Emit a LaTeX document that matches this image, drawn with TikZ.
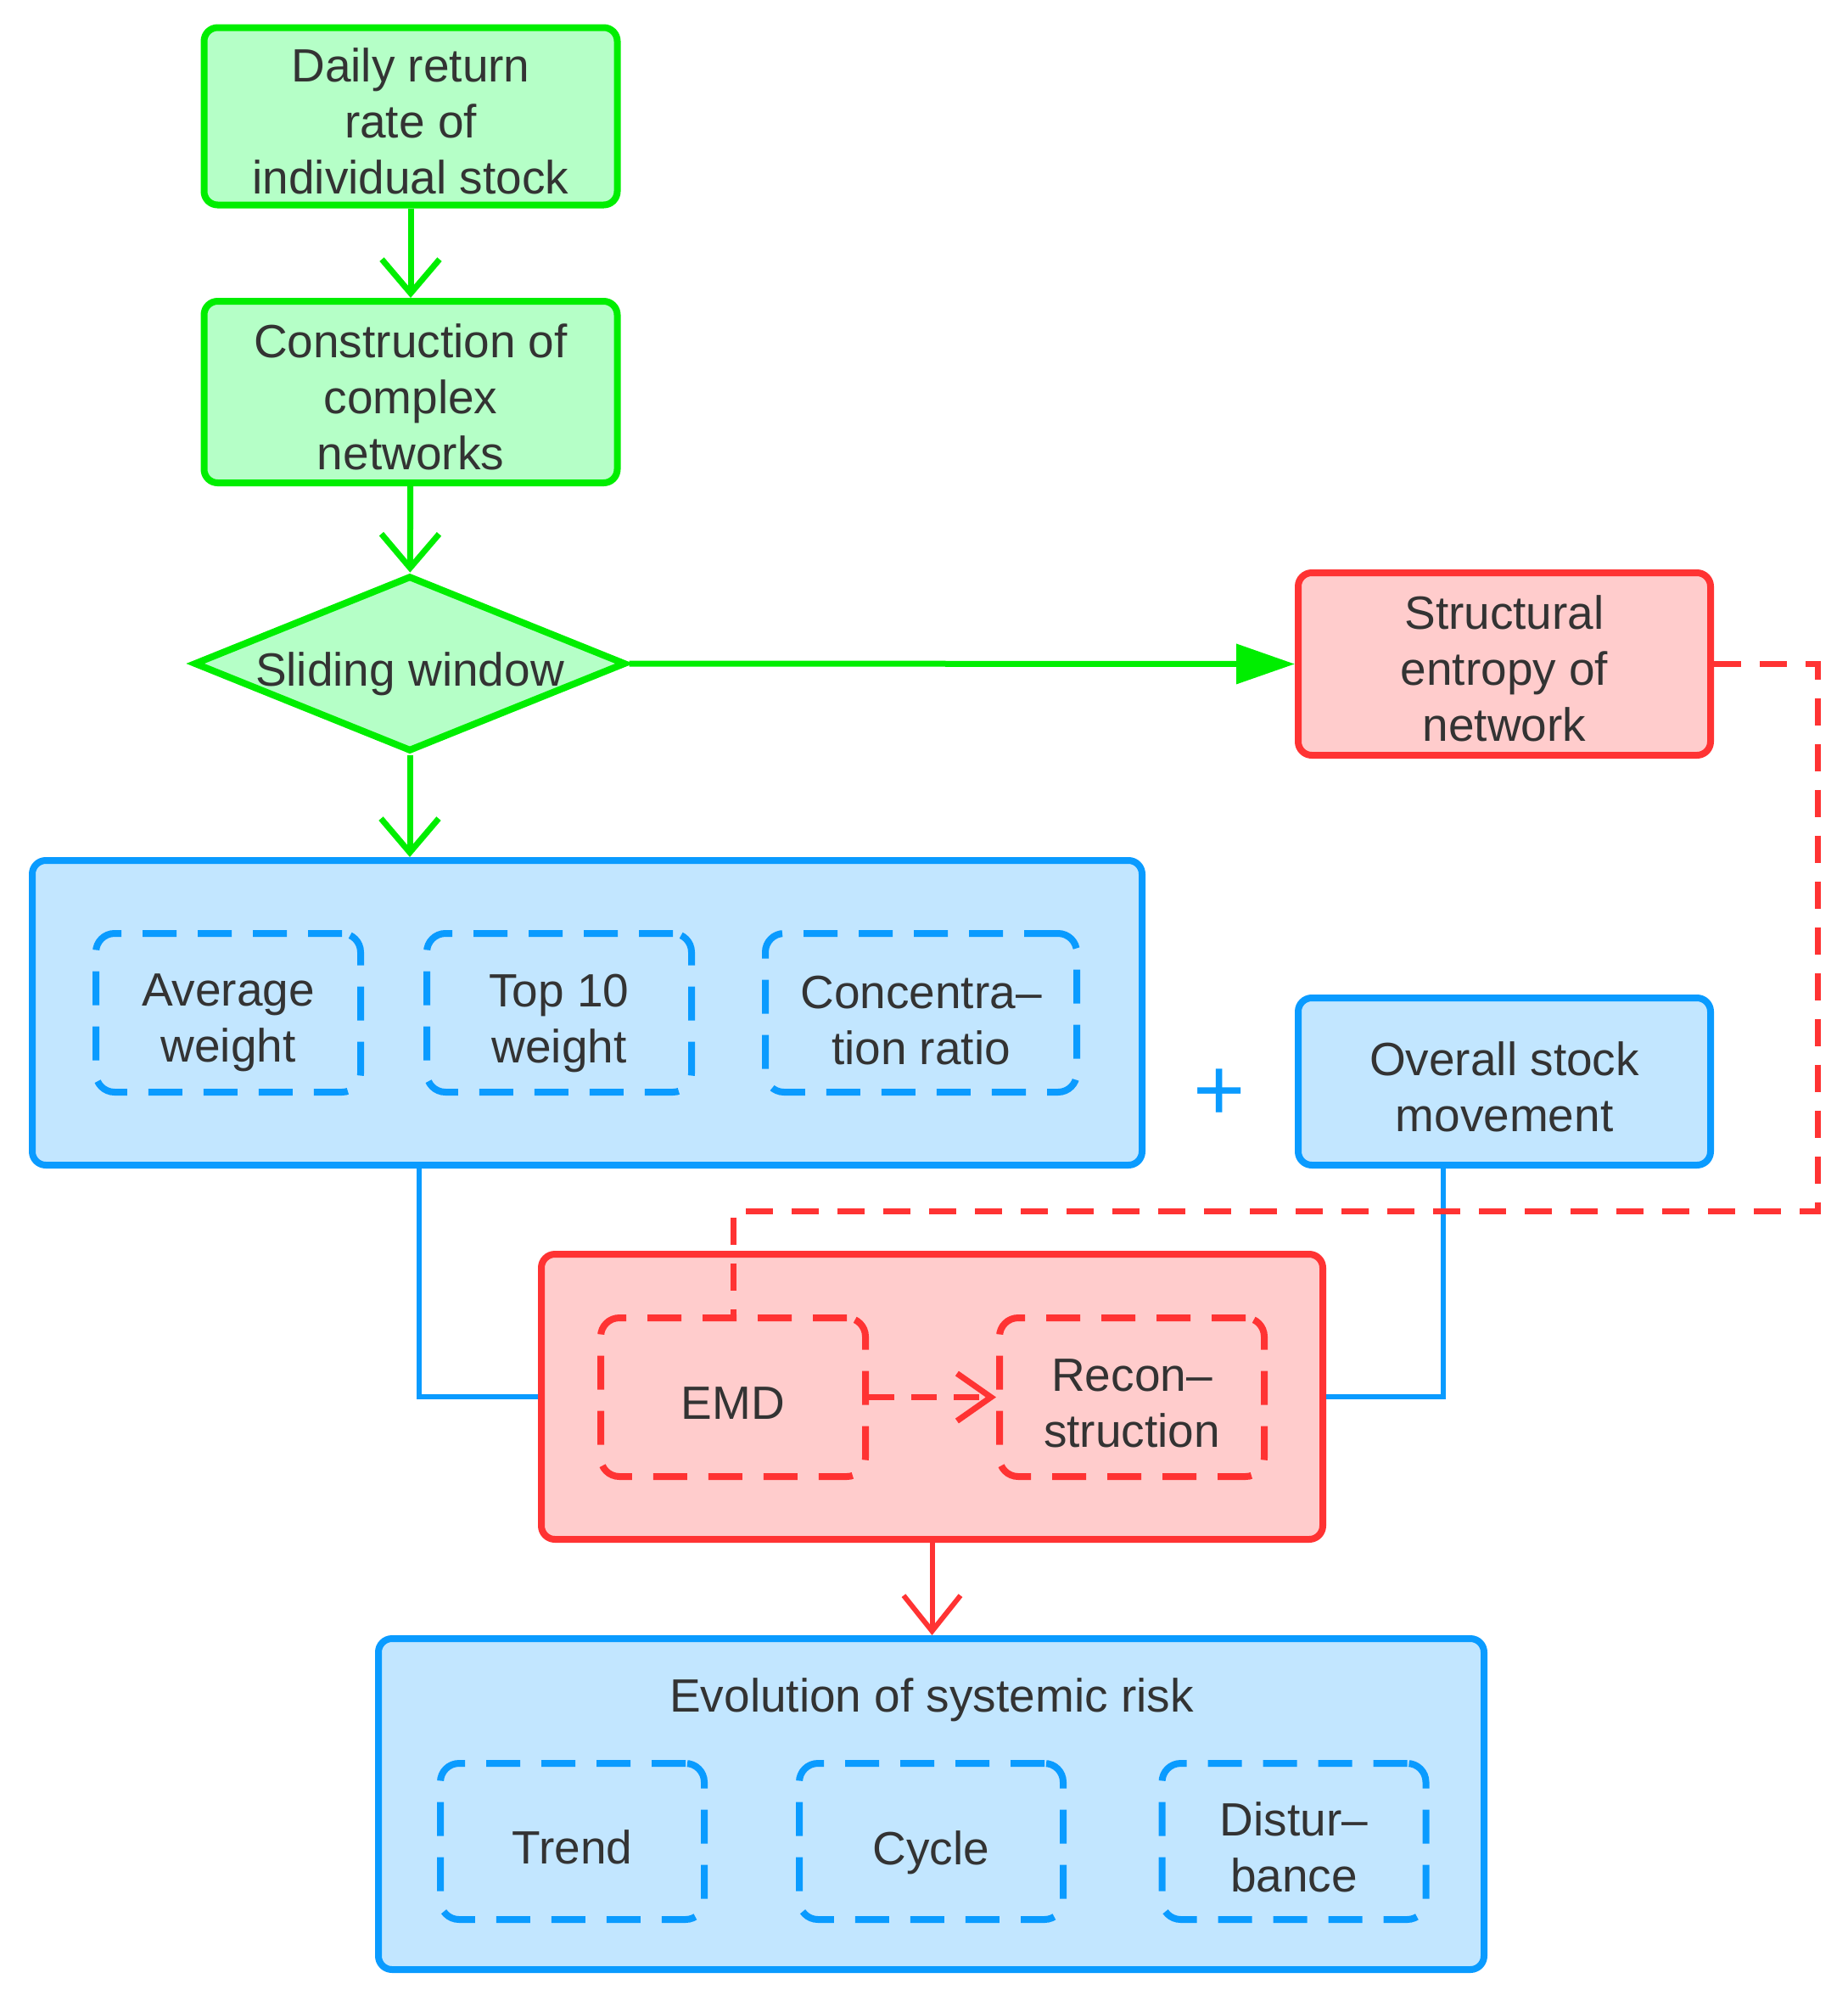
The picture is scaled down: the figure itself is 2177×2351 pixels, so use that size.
\documentclass[tikz,border=0pt]{standalone}
\usepackage{fontspec}
\setmainfont{Liberation Sans}
\usetikzlibrary{arrows.meta,shapes.geometric}
\definecolor{gline}{RGB}{0,238,0}
\definecolor{gfill}{RGB}{181,255,199}
\definecolor{rline}{RGB}{255,51,51}
\definecolor{rfill}{RGB}{255,204,204}
\definecolor{bline}{RGB}{10,155,255}
\definecolor{bfill}{RGB}{194,230,255}
\definecolor{txt}{RGB}{51,51,51}
\begin{document}
\begin{tikzpicture}[x=1pt,y=-1pt,
  every node/.style={font=\fontsize{55}{66}\selectfont, text=txt, align=center, inner sep=0pt},
  box/.style={rectangle, rounded corners=16pt, line width=8pt},
  gbox/.style={box, draw=gline, fill=gfill},
  rbox/.style={box, draw=rline, fill=rfill},
  bbox/.style={box, draw=bline, fill=bfill},
  dbox/.style={rectangle, rounded corners=22pt, line width=8pt, dash pattern=on 40pt off 25pt},
  bdash/.style={dbox, draw=bline},
  rdash/.style={dbox, draw=rline},
  garrow/.style={draw=gline, line width=7pt, -{Straight Barb[length=40pt,width=68pt]}},
  bconn/.style={draw=bline, line width=6pt},
  rconn/.style={draw=rline, line width=7pt, dash pattern=on 32pt off 22pt}
]
\useasboundingbox (0,0) rectangle (2177,2351);

% boxes
\node[gbox, minimum width=487pt, minimum height=209pt] (daily) at (484,137) {};
\node[gbox, minimum width=487pt, minimum height=214pt] (constr) at (484,462) {};
\node[diamond, draw=gline, fill=gfill, line width=8pt, minimum width=509pt, minimum height=207pt] (slide) at (483,782) {};
\node[rbox, minimum width=486pt, minimum height=215pt] (struct) at (1773,782.5) {};
\node[bbox, minimum width=1308pt, minimum height=359pt] (metrics) at (692,1193.5) {};
\node[bdash, minimum width=312pt, minimum height=187pt] (avg) at (269,1193.5) {};
\node[bdash, minimum width=312pt, minimum height=187pt] (top) at (659,1193.5) {};
\node[bdash, minimum width=367pt, minimum height=187pt] (conc) at (1085.5,1193.5) {};
\node[bbox, minimum width=486pt, minimum height=197pt] (overall) at (1773,1274.5) {};
\node[rbox, minimum width=921pt, minimum height=336pt] (decomp) at (1098.5,1646) {};
\node[rdash, minimum width=312pt, minimum height=187pt] (emd) at (864,1646.5) {};
\node[rdash, minimum width=312pt, minimum height=187pt] (recon) at (1334,1646.5) {};
\node[bbox, minimum width=1303pt, minimum height=390pt] (risk) at (1097.5,2126) {};
\node[bdash, minimum width=311pt, minimum height=184pt] (trend) at (674.5,2170) {};
\node[bdash, minimum width=311pt, minimum height=184pt] (cycle) at (1097.5,2170) {};
\node[bdash, minimum width=311pt, minimum height=184pt] (dist) at (1525,2170) {};

% texts
\node (dailyt) at ([yshift=-6pt]daily.center) {Daily return\\rate of\\individual stock};
\node (constrt) at ([yshift=-6pt]constr.center) {Construction of\\complex\\networks};
\node (slidet) at ([yshift=-12pt]slide.center) {Sliding window};
\node (structt) at ([yshift=-5pt]struct.center) {Structural\\entropy of\\network};
\node (avgt) at ([yshift=-12pt]avg.center) {Average\\weight};
\node (topt) at ([yshift=-12pt]top.center) {Top 10\\weight};
\node (conct) at ([yshift=-9pt]conc.center) {Concentra–\\tion ratio};
\node (overallt) at ([yshift=-6pt]overall.center) {Overall stock\\movement};
\node (emdt) at ([yshift=-7pt]emd.center) {EMD};
\node (recont) at ([yshift=-7pt]recon.center) {Recon–\\struction};
\node (risktitle) at (1098,2003) {Evolution of systemic risk};
\node (trendt) at ([yshift=-7pt]trend.center) {Trend};
\node (cyclet) at ([yshift=-13pt]cycle.center) {Cycle};
\node (distt) at ([yshift=-7pt]dist.center) {Distur–\\bance};
\node[text=bline, font=\fontsize{105}{105}\selectfont] (plus) at (1437,1290) {+};

% connectors
\draw[garrow] (daily) -- (constr);
\draw[garrow] (constr) -- (slide);
\draw[garrow] (slide.south) -- (slide.south |- metrics.north);
\draw[draw=gline, line width=7pt, -{Triangle[length=69pt,width=46pt]}] (slide.east) -- (struct.west);

\draw[bconn] ([xshift=-198pt]metrics.south) |- (decomp.west);
\draw[bconn] ([xshift=-72pt]overall.south) |- (decomp.east);

\coordinate (rturn) at (2142,1427);
\draw[rconn] (struct.east) -| (rturn) -- (emd.north |- rturn) -- (emd.north);
\draw[draw=rline, line width=7pt, dash pattern=on 30pt off 20pt, -{Straight Barb[length=40pt,width=56pt]}] (emd.east) -- (recon.west);
\draw[draw=rline, line width=6pt, -{Straight Barb[length=42pt,width=67pt]}] (decomp.south) -- (decomp.south |- risk.north);
\end{tikzpicture}
\end{document}
